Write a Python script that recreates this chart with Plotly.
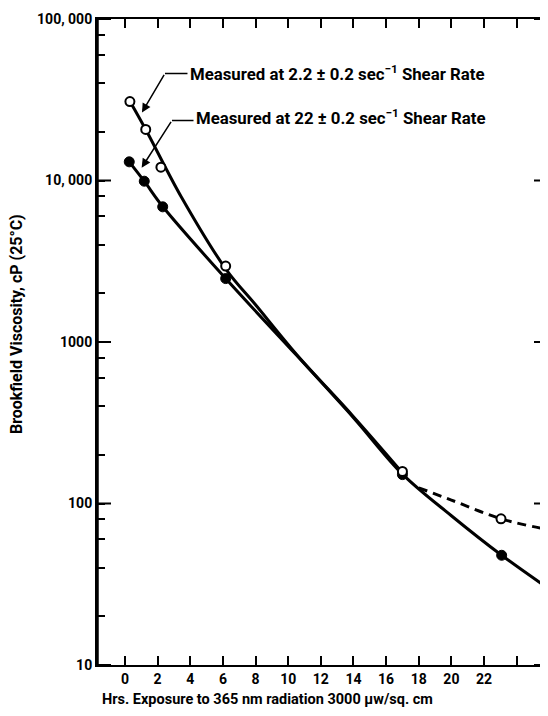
import math
import plotly.graph_objects as go

# ---- data ----
hours_open = [0.3, 1.27, 2.2, 6.17, 17.0, 23.04]
visc_open = [30800, 20700, 12100, 2950, 158, 80.4]

hours_solid = [0.26, 1.18, 2.31, 6.17, 17.0, 23.08]
visc_solid = [13050, 9900, 6870, 2470, 151, 47.8]

# fitted curves
curve_up_h = [0.3, 1.27, 3.47, 6.2, 8.0, 10.5, 14.0, 17.0]
curve_up_v = [31000, 20700, 7850, 2810, 1700, 840, 345, 155]
curve_low_h = [0.26, 1.18, 2.31, 6.17, 10.5, 14.0, 17.0, 20.0, 23.08, 25.9]
curve_low_v = [13050, 9900, 6900, 2470, 830, 340, 152, 84, 47.8, 30]
dash_h = [18.0, 20.0, 23.04, 25.9]
dash_v = [125, 105, 80.4, 69]

x_ticks = [0, 2, 4, 6, 8, 10, 12, 14, 16, 18, 20, 22, 24]
x_ticktext = ["0", "2", "4", "6", "8", "10", "12", "14", "16", "18", "20", "22", ""]
y_major = [10, 100, 1000, 10000, 100000]
y_major_text = ["10", "100", "1000", "10, 000", "100, 000"]
y_minor = [m * d for d in (10, 100, 1000, 10000) for m in (2, 4, 6, 8)]

label_1 = "Measured at 2.2 \u00b1 0.2 sec<sup>\u22121</sup> Shear Rate"
label_2 = "Measured at 22 \u00b1 0.2 sec<sup>\u22121</sup> Shear Rate"
x_title = "Hrs. Exposure to 365 nm radiation 3000 \u03bcw/sq. cm"
y_title = "Brookfield Viscosity, cP (25\u00b0C)"

FONT = "Roboto, Liberation Sans, Arial, sans-serif"

# all y ticks: labels only on majors
y_all = sorted(y_major + y_minor)
y_all_text = [y_major_text[y_major.index(v)] if v in y_major else "" for v in y_all]

fig = go.Figure()
fig.add_trace(go.Scatter(x=curve_up_h, y=curve_up_v, mode="lines",
                         line=dict(color="black", width=3, shape="spline", smoothing=1),
                         hoverinfo="skip"))
fig.add_trace(go.Scatter(x=curve_low_h, y=curve_low_v, mode="lines",
                         line=dict(color="black", width=3, shape="spline", smoothing=1),
                         hoverinfo="skip"))
fig.add_trace(go.Scatter(x=dash_h, y=dash_v, mode="lines",
                         line=dict(color="black", width=3, shape="spline", smoothing=1,
                                   dash="9px,6px"),
                         hoverinfo="skip"))
fig.add_trace(go.Scatter(x=hours_solid, y=visc_solid, mode="markers",
                         marker=dict(symbol="circle", size=10, color="black",
                                     line=dict(color="black", width=1))))
fig.add_trace(go.Scatter(x=hours_open, y=visc_open, mode="markers",
                         marker=dict(symbol="circle", size=9, color="white",
                                     line=dict(color="black", width=2))))

axis_font = dict(family=FONT, size=14, color="black", weight="bold")

fig.update_layout(
    xaxis=dict(range=[-1.716, 25.92], tickmode="array", tickvals=x_ticks,
               ticktext=x_ticktext, automargin=False,
               ticks="inside", ticklen=9, tickwidth=2, tickcolor="black",
               showline=True, linewidth=2, linecolor="black", mirror="allticks",
               showgrid=False, zeroline=False, tickfont=axis_font),
    yaxis=dict(type="log", range=[1, 5], tickmode="array", tickvals=y_all,
               ticktext=y_all_text, automargin=False,
               ticks="inside", ticklen=8, tickwidth=2, tickcolor="black",
               showline=True, linewidth=2, linecolor="black", mirror="allticks",
               showgrid=False, zeroline=False, tickfont=axis_font),
)

# tick marks along the left and right frame, built from the tick arrays
PLOT_W = 540 - 89
MAJ = 14 / PLOT_W
MIN = 8 / PLOT_W
tick_line = dict(color="black", width=2)
for v in y_major:
    fig.add_shape(type="line", xref="paper", yref="y", x0=0, x1=MAJ, y0=v, y1=v,
                  line=tick_line)
    fig.add_shape(type="line", xref="paper", yref="y", x0=1 - MAJ, x1=1, y0=v, y1=v,
                  line=tick_line)
for v in y_minor:
    fig.add_shape(type="line", xref="paper", yref="y", x0=1 - MIN, x1=1, y0=v, y1=v,
                  line=tick_line)

# heavier left spine
fig.add_shape(type="line", xref="paper", yref="paper", x0=0, x1=0, y0=0, y1=1,
              line=dict(color="black", width=3.5))

ann_font = dict(family=FONT, size=16.8, color="black", weight="bold")
# label 1 with bent leader
fig.add_annotation(x=3.92, y=4.668, text=label_1, showarrow=False,
                   xanchor="left", yanchor="middle", font=ann_font, borderpad=0)
fig.add_annotation(x=1.04, y=4.421, ax=2.45, ay=4.663, axref="x", ayref="y",
                   text="", showarrow=True, arrowhead=2, arrowsize=1.2,
                   arrowwidth=1.5, arrowcolor="black")
fig.add_annotation(x=2.45, y=4.663, ax=3.92, ay=4.663, axref="x", ayref="y",
                   text="", showarrow=True, arrowhead=0, arrowwidth=1.5,
                   arrowcolor="black", standoff=0, startstandoff=0)
# label 2
fig.add_annotation(x=4.29, y=4.395, text=label_2, showarrow=False,
                   xanchor="left", yanchor="middle", font=ann_font, borderpad=0)
fig.add_annotation(x=1.02, y=4.079, ax=2.88, ay=4.372, axref="x", ayref="y",
                   text="", showarrow=True, arrowhead=2, arrowsize=1.2,
                   arrowwidth=1.5, arrowcolor="black")
fig.add_annotation(x=2.88, y=4.372, ax=4.29, ay=4.372, axref="x", ayref="y",
                   text="", showarrow=True, arrowhead=0, arrowwidth=1.5,
                   arrowcolor="black", standoff=0, startstandoff=0)

# axis titles
fig.add_annotation(xref="paper", yref="paper", x=-0.177, y=0.528, text=y_title,
                   textangle=-90, showarrow=False, xanchor="center", yanchor="middle",
                   font=dict(family=FONT, size=16, color="black", weight="bold"))
fig.add_annotation(xref="paper", yref="paper", x=0.379, y=-0.054, text=x_title,
                   showarrow=False, xanchor="center", yanchor="middle",
                   font=dict(family=FONT, size=14.5, color="black", weight="bold"))

fig.update_layout(width=540, height=708, margin=dict(l=89, r=0, t=11, b=51),
                  paper_bgcolor="white", plot_bgcolor="white", showlegend=False)

fig.write_html("out.html")
